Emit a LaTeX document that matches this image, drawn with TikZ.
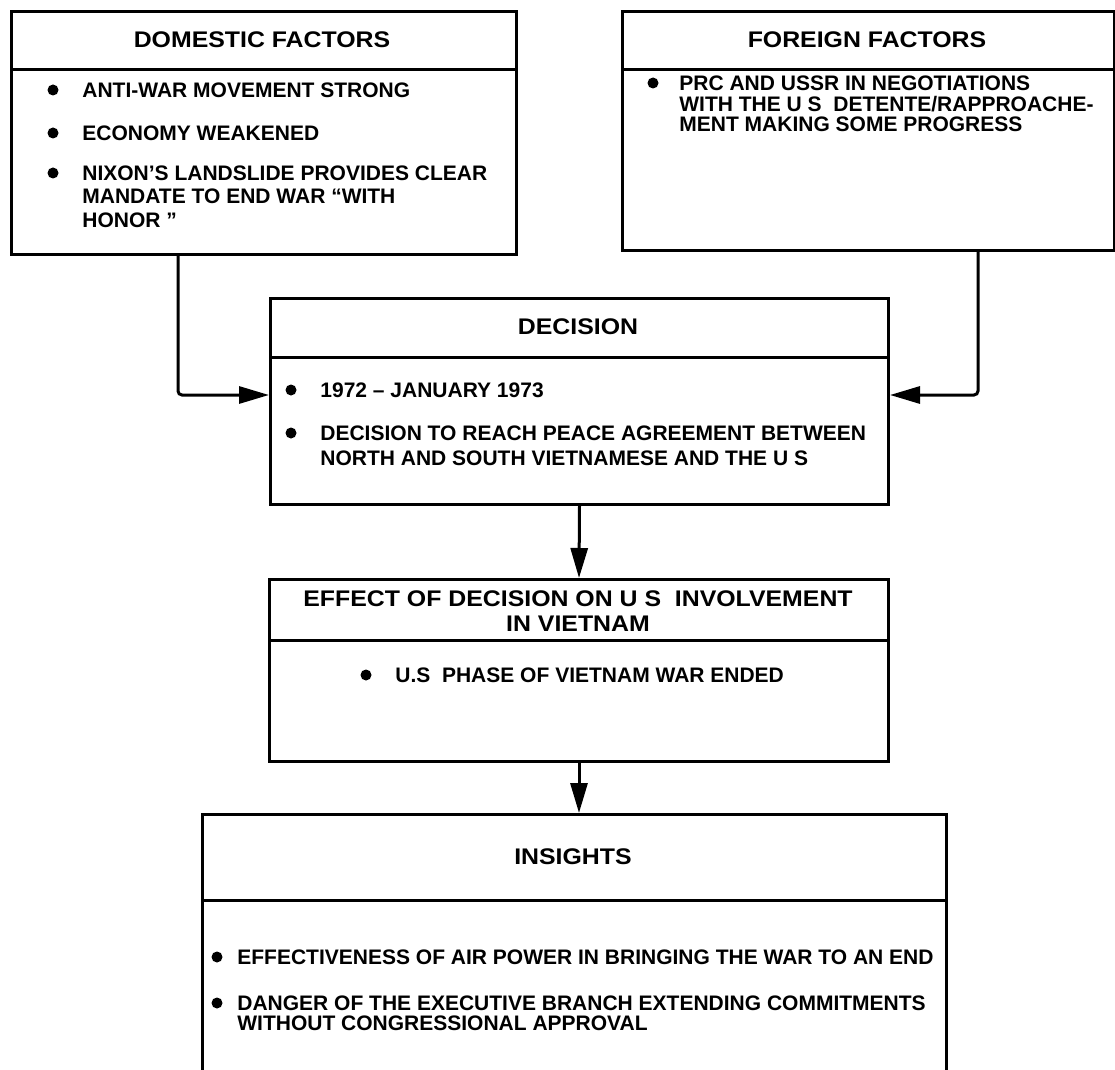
\documentclass[tikz,border=0pt]{standalone}
\usepackage{fontspec}
\setmainfont{Liberation Sans}
\newfontfamily\hdrfamily[FakeStretch=1.1]{Liberation Sans}
\usetikzlibrary{arrows.meta,positioning}
\newlength{\pxu}
\setlength{\pxu}{0.5pt}
\tikzset{
  panel/.style={
    draw=black,
    line width=1.5pt,
    inner sep=0pt,
    anchor=north west
  },
  hdr/.style={font=\hdrfamily\fontsize{11.3pt}{12.5pt}\selectfont\bfseries, inner sep=0pt, align=center},
  item/.style={font=\fontsize{10.5pt}{#1}\selectfont\bfseries, inner sep=0pt, align=left, anchor=north west},
  bul/.style={circle, fill=black, inner sep=0pt, minimum size=5.5pt},
  flow/.style={line width=1.5pt, rounded corners=2pt, -{Triangle[length=15pt,width=8.5pt]}},
}
% box with a header rule: name, x, y, width, height, header depth
\newcommand{\Panel}[6]{%
  \node[panel, minimum width=#4\pxu, minimum height=#5\pxu] (#1) at (#2,#3) {};
  \draw[line width=1.5pt] ([yshift=-#6\pxu]#1.north west) -- ([yshift=-#6\pxu]#1.north east);
}
% bullet point: [text offset], name, x, y, line skip, text
\newcommand{\Item}[6][29]{%
  \node[bul] (#2) at (#3,#4) {};
  \node[item=#5] (#2t) at ([xshift=#1\pxu,yshift=7.5\pxu]#2.center) {#6};
}

\begin{document}
\begin{tikzpicture}[x=0.5pt, y=-0.5pt]
  \useasboundingbox (0,0) rectangle (1115,1070);
  \clip (0,0) rectangle (1115,1070);

  % factors
  \Panel{dom}{10}{10}{505}{243}{60}
  \node[hdr] (domT) at (262,40) {DOMESTIC FACTORS};
  \foreach \t/\yy [count=\i] in {{ANTI-WAR MOVEMENT STRONG}/90,
      {ECONOMY WEAKENED}/133,
      {NIXON'S LANDSLIDE PROVIDES CLEAR\\MANDATE TO END WAR “WITH\\HONOR ”}/173} {
    \Item{d\i}{53}{\yy}{11.7pt}{\t}
  }

  \Panel{frn}{621}{10}{492}{239}{60}
  \node[hdr] (frnT) at (867,40) {FOREIGN FACTORS};
  \Item[26]{f1}{653}{83}{10.3pt}{PRC AND USSR IN NEGOTIATIONS\\WITH THE U S\ \ DETENTE/RAPPROACHE-\\MENT MAKING SOME PROGRESS}

  % decision
  \Panel{dec}{269}{297}{618}{206}{60}
  \node[hdr] (decT) at (578,327) {DECISION};
  \Item{c1}{291}{390}{12.5pt}{1972 -- JANUARY 1973}
  \Item{c2}{291}{433}{12.5pt}{DECISION TO REACH PEACE AGREEMENT BETWEEN\\NORTH AND SOUTH VIETNAMESE AND THE U S}

  % effect
  \Panel{eff}{268}{578}{619}{182}{62}
  \node[hdr] (effT) at (578,611) {EFFECT OF DECISION ON U S\ \ INVOLVEMENT\\IN VIETNAM};
  \Item{e1}{366}{675}{12pt}{U.S\ \ PHASE OF VIETNAM WAR ENDED}

  % insights
  \Panel{ins}{201}{813}{744}{300}{87}
  \node[hdr] (insT) at (573,857) {INSIGHTS};
  \Item[20]{i1}{217}{957}{10pt}{EFFECTIVENESS OF AIR POWER IN BRINGING THE WAR TO AN END}
  \Item[20]{i2}{217}{1003}{10pt}{DANGER OF THE EXECUTIVE BRANCH EXTENDING COMMITMENTS\\WITHOUT CONGRESSIONAL APPROVAL}

  % connectors
  \draw[flow] ([xshift=168\pxu]dom.south west) |- ([yshift=-98\pxu]dec.north west);
  \draw[flow] ([xshift=357\pxu]frn.south west) |- ([yshift=-98\pxu]dec.north east);
  \draw[flow] (dec.south) -- (eff.north);
  \draw[flow] (eff.south) -- (eff.south |- ins.north);
\end{tikzpicture}
\end{document}
